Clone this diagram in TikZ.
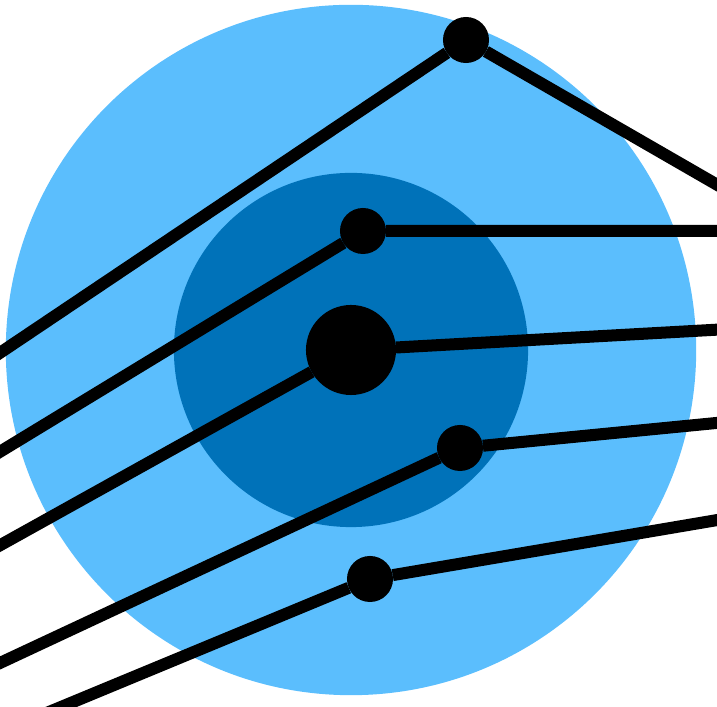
\documentclass[tikz,border=0pt]{standalone}
\usepackage{xcolor}
\usepackage{tikz}
\usetikzlibrary{positioning}
\definecolor{skyblue}{RGB}{91,190,253}
\definecolor{deepblue}{RGB}{0,114,185}

\begin{document}
\begin{tikzpicture}[
    x=0.01cm, y=-0.01cm,
    disc/.style={circle, inner sep=0pt, outer sep=0pt},
    dot/.style={disc, fill=black, minimum size=0.46cm},
    hub/.style={dot, minimum size=0.90cm},
    wire/.style={line width=0.12cm, black},
  ]
    \useasboundingbox (0,0) rectangle (717,707);

    \node[disc, fill=skyblue,  minimum size=6.90cm] (outer) at (351,350) {};
    \node[disc, fill=deepblue, minimum size=3.54cm] (inner) at (351,350) {};

    \node[dot] (top)   at (466,40)  {};
    \node[dot] (upper) at (363,231) {};
    \node[hub] (core)  at (351,350) {};
    \node[dot] (lower) at (460,448) {};
    \node[dot] (base)  at (370,579) {};

    % loose ends, just past the page edge
    \coordinate (top-w)   at (-30,373);
    \coordinate (top-e)   at (747,202);
    \coordinate (upper-w) at (-30,470);
    \coordinate (upper-e) at (747,231);
    \coordinate (core-w)  at (-30,562);
    \coordinate (core-e)  at (747,328);
    \coordinate (lower-w) at (-30,677);
    \coordinate (lower-e) at (747,420);
    \coordinate (base-w)  at (20,724);
    \coordinate (base-e)  at (747,515);

    \draw[wire] (top-w)   -- (top)   -- (top-e);
    \draw[wire] (upper-w) -- (upper) -- (upper-e);
    \draw[wire] (core-w)  -- (core)  -- (core-e);
    \draw[wire] (lower-w) -- (lower) -- (lower-e);
    \draw[wire] (base-w)  -- (base)  -- (base-e);
  \end{tikzpicture}
\end{document}
